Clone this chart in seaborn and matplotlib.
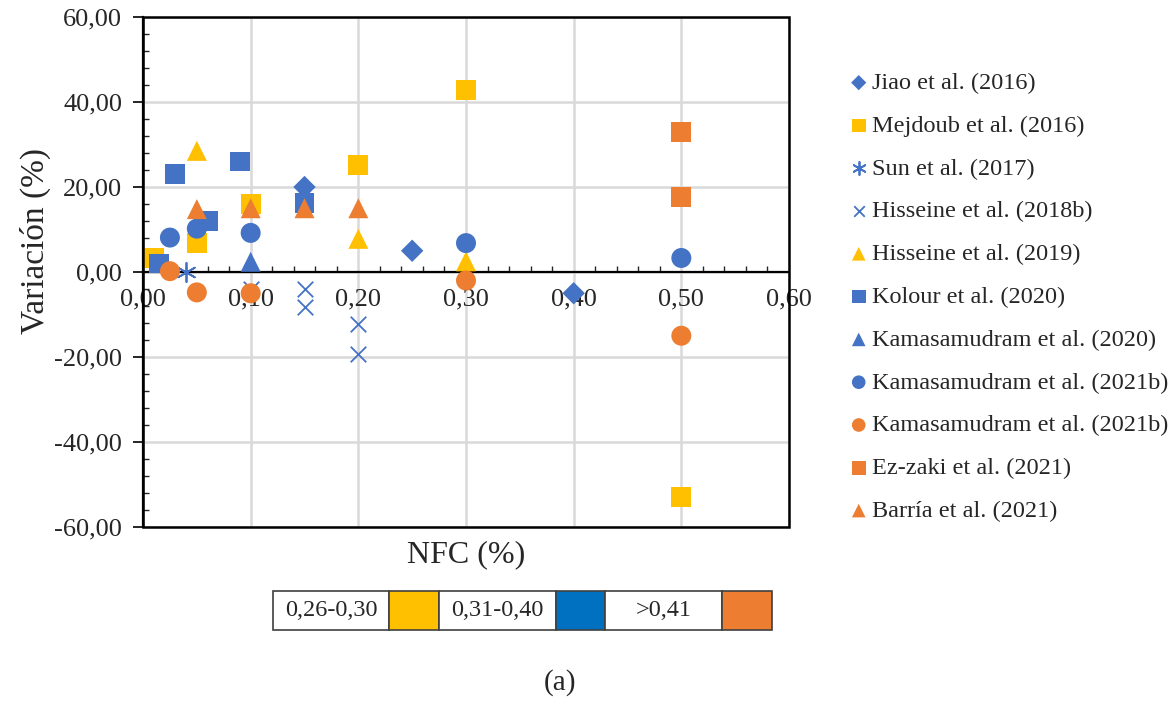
import matplotlib
matplotlib.use("Agg")
import matplotlib.pyplot as plt
from matplotlib.patches import Rectangle
from matplotlib.ticker import MultipleLocator, FuncFormatter
import seaborn as sns

sns.set_style("white")
plt.rcParams["font.family"] = ["Liberation Serif", "DejaVu Serif"]

# ---- data ----
jiao_x = [0.15, 0.25, 0.40]
jiao_y = [20.0, 5.0, -5.0]
mejdoub_x = [0.01, 0.05, 0.10, 0.20, 0.30, 0.50]
mejdoub_y = [3.2, 6.8, 16.0, 25.2, 42.8, -53.0]
sun_x = [0.04]
sun_y = [0.0]
hisseine18_x = [0.10, 0.15, 0.15, 0.20, 0.20]
hisseine18_y = [-4.0, -4.0, -8.3, -12.3, -19.3]
hisseine19_x = [0.05, 0.20, 0.30]
hisseine19_y = [28.5, 7.8, 2.5]
kolour_x = [0.015, 0.03, 0.06, 0.09, 0.15]
kolour_y = [2.0, 23.0, 12.0, 26.0, 16.2]
kama20_x = [0.10]
kama20_y = [2.4]
kama21_blue_x = [0.025, 0.05, 0.10, 0.30, 0.50]
kama21_blue_y = [8.1, 10.2, 9.2, 6.8, 3.3]
kama21_orange_x = [0.025, 0.05, 0.10, 0.30, 0.50]
kama21_orange_y = [0.2, -4.8, -5.0, -2.0, -15.0]
ezzaki_x = [0.50, 0.50]
ezzaki_y = [33.0, 17.6]
barria_x = [0.05, 0.10, 0.15, 0.20]
barria_y = [14.8, 15.0, 15.0, 15.0]

series_labels = ["Jiao et al. (2016)", "Mejdoub et al. (2016)", "Sun et al. (2017)",
                 "Hisseine et al. (2018b)", "Hisseine et al. (2019)", "Kolour et al. (2020)",
                 "Kamasamudram et al. (2020)", "Kamasamudram et al. (2021b)",
                 "Kamasamudram et al. (2021b)", "Ez-zaki et al. (2021)", "Barría et al. (2021)"]

range_labels = ["0,26-0,30", "0,31-0,40", ">0,41"]
range_colors = ["#FFC000", "#0070C0", "#ED7D31"]

x_ticks = [0.0, 0.1, 0.2, 0.3, 0.4, 0.5, 0.6]
y_ticks = [-60, -40, -20, 0, 20, 40, 60]

BLUE = "#4472C4"
YELLOW = "#FFC000"
ORANGE = "#ED7D31"

series = [
    (jiao_x, jiao_y, BLUE, "D", 130, 0),
    (mejdoub_x, mejdoub_y, YELLOW, "s", 207, 0),
    (sun_x, sun_y, BLUE, (6, 2, 0), 190, 1.3),
    (hisseine18_x, hisseine18_y, BLUE, "x", 125, 1.3),
    (hisseine19_x, hisseine19_y, YELLOW, "^", 207, 0),
    (kolour_x, kolour_y, BLUE, "s", 207, 0),
    (kama20_x, kama20_y, BLUE, "^", 207, 0),
    (kama21_blue_x, kama21_blue_y, BLUE, "o", 207, 0),
    (kama21_orange_x, kama21_orange_y, ORANGE, "o", 207, 0),
    (ezzaki_x, ezzaki_y, ORANGE, "s", 207, 0),
    (barria_x, barria_y, ORANGE, "^", 207, 0),
]

W, H = 1175, 701
fig = plt.figure(figsize=(W / 100, H / 100), dpi=100)
L, R, T, B = 143, 789, 17, 527
ax = fig.add_axes([L / W, 1 - B / H, (R - L) / W, (B - T) / H])

for (xs, ys, col, mk, sz, lw), lab in zip(series, series_labels):
    sns.scatterplot(x=xs, y=ys, ax=ax, color=col, marker=mk, s=sz,
                    linewidth=lw, edgecolor=col if lw else "none", label=lab, zorder=3)

ax.set_xlim(0, 0.6)
ax.set_ylim(-60, 60)
ax.set_xticks(x_ticks)
ax.set_yticks(y_ticks)
ax.xaxis.set_minor_locator(MultipleLocator(0.02))
ax.yaxis.set_minor_locator(MultipleLocator(4))
fmt = FuncFormatter(lambda v, p: f"{v:.2f}".replace(".", ","))
ax.xaxis.set_major_formatter(fmt)
ax.yaxis.set_major_formatter(fmt)

ax.grid(True, which="major", color="#D9D9D9", linewidth=1.8)
ax.set_axisbelow(True)

for s in ["top", "right"]:
    ax.spines[s].set_visible(False)
ax.spines["left"].set_linewidth(1.6)
ax.spines["left"].set_color("black")
ax.spines["bottom"].set_position(("data", 0))
ax.spines["bottom"].set_linewidth(1.6)
ax.spines["bottom"].set_color("black")
ax.add_patch(Rectangle((0, 0), 1, 1, transform=ax.transAxes, fill=False,
                       edgecolor="black", linewidth=1.8, clip_on=False, zorder=4))

ax.tick_params(axis="x", which="major", direction="inout", length=7, width=1.2,
               pad=8, labelsize=19, colors="black")
ax.tick_params(axis="x", which="minor", direction="in", length=4.5, width=1.0,
               bottom=True)
ax.tick_params(axis="y", which="major", direction="out", length=7, width=1.2,
               pad=8, labelsize=19, colors="black", left=True)
ax.tick_params(axis="y", which="minor", direction="in", length=4.5, width=1.0,
               left=True)
for lbl in ax.get_xticklabels() + ax.get_yticklabels():
    lbl.set_color("#262626")

ax.set_xlabel("NFC (%)", fontsize=23, color="#262626")
ax.xaxis.set_label_coords(0.5, -0.025)
ax.set_ylabel("Variación (%)", fontsize=24, color="#262626")
ax.yaxis.set_label_coords(-0.142, 0.56)

leg = ax.legend(loc="upper left", bbox_to_anchor=(849 / W, 1 - 72 / H),
                bbox_transform=fig.transFigure, frameon=False, fontsize=17.5,
                markerscale=0.68, handlelength=0.8, handletextpad=0.15,
                labelspacing=0.855, borderpad=0, borderaxespad=0)
for t in leg.get_texts():
    t.set_color("#262626")

# bottom colour key
kx0, ky0, kx1, ky1 = 272.7, 590.7, 771.7, 630.0
kax = fig.add_axes([kx0 / W, 1 - ky1 / H, (kx1 - kx0) / W, (ky1 - ky0) / H])
kax.set_xlim(0, kx1 - kx0)
kax.set_ylim(0, 1)
kax.axis("off")
text_w, col_w = 116.6, 49.7
x = 0
for lab, col in zip(range_labels, range_colors):
    kax.add_patch(Rectangle((x, 0), text_w, 1, facecolor="white", edgecolor="#404040",
                            linewidth=1.2, clip_on=False))
    kax.text(x + text_w / 2, 0.5, lab, ha="center", va="center", fontsize=17.5,
             color="#262626")
    x += text_w
    kax.add_patch(Rectangle((x, 0), col_w, 1, facecolor=col, edgecolor="#404040",
                            linewidth=1.2, clip_on=False))
    x += col_w

fig.text(560 / W, 1 - 683 / H, "(a)", ha="center", va="center", fontsize=21,
         color="#262626")

fig.savefig("out.png", dpi=100, facecolor="white")
